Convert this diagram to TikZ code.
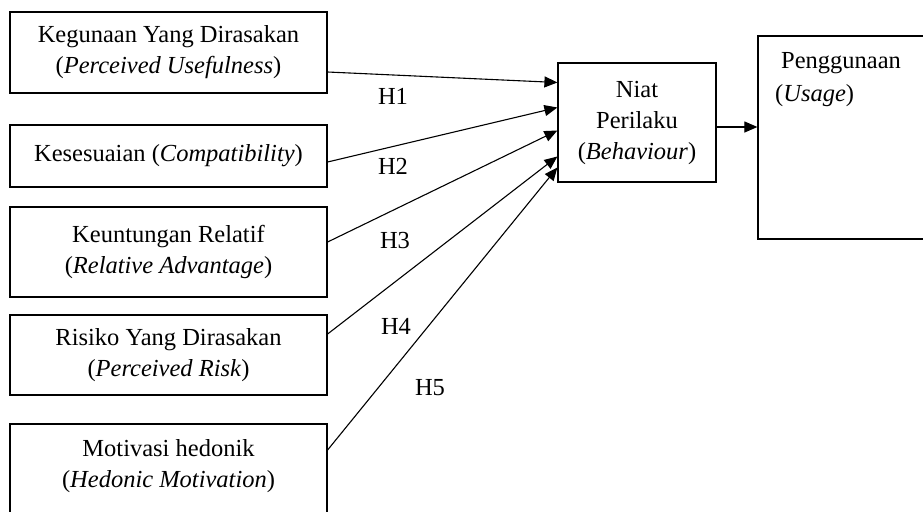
\documentclass[tikz,border=0pt]{standalone}
\usepackage{fontspec}
\setmainfont{Liberation Serif}
\usetikzlibrary{arrows.meta}
\begin{document}
\begin{tikzpicture}[x=1pt,y=-1pt,
  every node/.style={font=\fontsize{24.5}{31}\selectfont},
  box/.style={draw=black,line width=1.2pt,rectangle,inner sep=0pt,align=center,minimum width=317pt},
  arr/.style={draw=black,line width=1.1pt,-{Triangle[length=13pt,width=11pt]}},
  hlabel/.style={inner sep=0pt}]
\useasboundingbox (0,0) rectangle (923,511);
\clip (0,0) rectangle (923,511);
\fill[white] (0,0) rectangle (923,511);
% left boxes
\node[box,minimum height=81pt] (b1) at (168.5,52.5) {Kegunaan Yang Dirasakan\\(\textit{Perceived Usefulness})};
\node[box,minimum height=62pt] (b2) at (168.5,156) {Kesesuaian (\textit{Compatibility})};
\node[box,minimum height=90pt] (b3) at (168.5,252) {Keuntungan Relatif\\(\textit{Relative Advantage})};
\node[box,minimum height=80pt] (b4) at (168.5,355) {Risiko Yang Dirasakan\\(\textit{Perceived Risk})};
\node[box,minimum height=100pt] (b5) at (168.5,474) {};
\node[inner sep=0pt,align=center] (t5) at (168.5,466) {Motivasi hedonik\\(\textit{Hedonic Motivation})};
% middle and right boxes
\node[box,minimum width=158pt,minimum height=119pt] (niat) at (637,122.5) {Niat\\Perilaku\\(\textit{Behaviour})};
\node[box,minimum width=192pt,minimum height=203pt] (peng) at (854,137.5) {};
\node[inner sep=0pt,anchor=west] (pt1) at (781,63) {Penggunaan};
\node[inner sep=0pt,anchor=west] (pt2) at (775,96) {(\textit{Usage})};
% arrows
\draw[arr] ([yshift=-19.5pt]b1.east) -- ([yshift=40pt]niat.west);
\draw[arr] ([yshift=-6pt]b2.east) -- ([yshift=15pt]niat.west);
\draw[arr] ([yshift=10pt]b3.east) -- ([yshift=-8pt]niat.west);
\draw[arr] ([yshift=21pt]b4.east) -- ([yshift=-34pt]niat.west);
\draw[arr] ([yshift=24pt]b5.east) -- ([yshift=-45pt]niat.west);
\draw[arr] ([yshift=-4.5pt]niat.east) -- ([yshift=10.5pt]peng.west);
% hypothesis labels
\node[hlabel] (h1) at (393,96) {H1};
\node[hlabel] (h2) at (393,166) {H2};
\node[hlabel] (h3) at (395,241) {H3};
\node[hlabel] (h4) at (396,326) {H4};
\node[hlabel] (h5) at (430,388) {H5};
\end{tikzpicture}
\end{document}
